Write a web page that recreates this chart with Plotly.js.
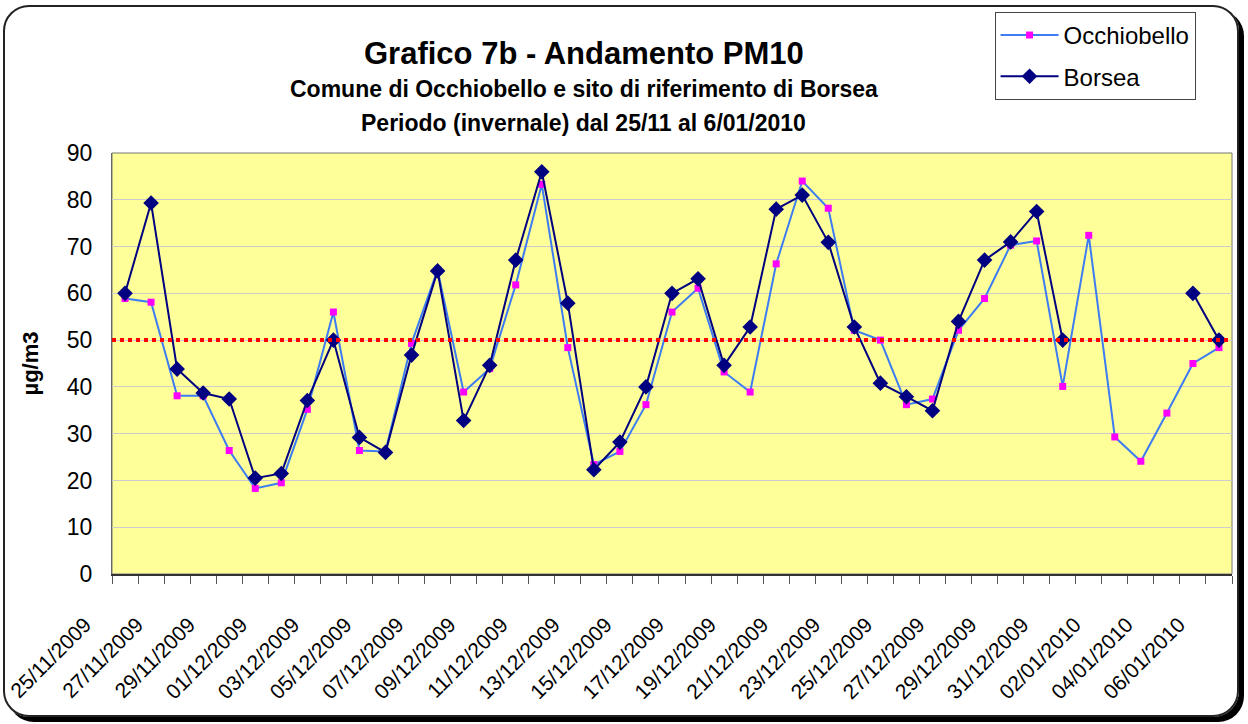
<!DOCTYPE html>
<html>
<head>
<meta charset="utf-8">
<script src="https://cdn.plot.ly/plotly-3.0.1.min.js"></script>
<style>
  body { margin: 0; background: #fff; }
  #myDiv { position: absolute; left: 0; top: 0; width: 1248px; height: 724px; }
  #frame {
    position: absolute; left: 3px; top: 5px; width: 1236px; height: 712px;
    box-sizing: border-box; border: 2px solid #222; border-radius: 26px;
    box-shadow: 5px 5px 0 #000; pointer-events: none;
  }
</style>
</head>
<body>
<div id="myDiv"></div>
<div id="frame"></div>
<script>
var days = ['2009-11-25', '2009-11-26', '2009-11-27', '2009-11-28', '2009-11-29', '2009-11-30',
  '2009-12-01', '2009-12-02', '2009-12-03', '2009-12-04', '2009-12-05', '2009-12-06',
  '2009-12-07', '2009-12-08', '2009-12-09', '2009-12-10', '2009-12-11', '2009-12-12',
  '2009-12-13', '2009-12-14', '2009-12-15', '2009-12-16', '2009-12-17', '2009-12-18',
  '2009-12-19', '2009-12-20', '2009-12-21', '2009-12-22', '2009-12-23', '2009-12-24',
  '2009-12-25', '2009-12-26', '2009-12-27', '2009-12-28', '2009-12-29', '2009-12-30',
  '2009-12-31', '2010-01-01', '2010-01-02', '2010-01-03', '2010-01-04', '2010-01-05',
  '2010-01-06'];

var occhiobello = [58.9, 58.1, 38.1, 38.1, 26.4, 18.3,
  19.5, 35.2, 56.0, 26.4, 26.2, 49.3,
  65.0, 38.9, 43.9, 61.8, 83.3, 48.4,
  23.4, 26.2, 36.2, 56.0, 61.1, 43.2,
  38.9, 66.3, 84.0, 78.2, 52.1, 50.0,
  36.2, 37.4, 52.1, 58.9, 70.3, 71.2,
  40.1, 72.4, 29.3, 24.1, 34.4, 45.0,
  48.4];

var borsea = [60.0, 79.3, 43.8, 38.7, 37.4, 20.5,
  21.5, 37.1, 50.0, 29.2, 26.0, 46.8,
  64.8, 32.8, 44.6, 67.1, 86.0, 57.9,
  22.3, 28.2, 40.0, 60.0, 63.1, 44.6,
  52.8, 78.0, 81.0, 70.9, 52.8, 40.8,
  37.9, 34.9, 54.0, 67.1, 71.0, 77.5,
  50.0, null, null, null, null, 60.0,
  50.0];

var limit = 50;

var trace1 = {
  x: days,
  y: occhiobello,
  mode: 'lines+markers',
  type: 'scatter',
  name: 'Occhiobello',
  legendgroup: 'a',
  line: { color: '#3d7cf2', width: 2 },
  marker: { symbol: 'square', size: 7, color: '#ff00ff' }
};

var trace2 = {
  x: days,
  y: borsea,
  mode: 'lines+markers',
  type: 'scatter',
  name: 'Borsea',
  legendgroup: 'b',
  connectgaps: false,
  line: { color: '#000080', width: 2 },
  marker: { symbol: 'diamond', size: 12, color: '#000080' }
};

var data = [trace1, trace2];

var layout = {
  width: 1248,
  height: 724,
  margin: { l: 112, r: 16, t: 153, b: 150 },
  paper_bgcolor: '#ffffff',
  plot_bgcolor: '#ffff99',
  font: { family: 'Liberation Sans, Arial, sans-serif', color: '#000' },
  showlegend: true,
  legend: {
    x: 0.788, y: 1.335, xanchor: 'left', yanchor: 'top',
    bgcolor: '#ffffff', bordercolor: '#444', borderwidth: 1,
    font: { size: 24 }, traceorder: 'grouped', tracegroupgap: 7,
    itemwidth: 58
  },
  xaxis: {
    type: 'date',
    range: ['2009-11-24 12:00', '2010-01-06 12:00'],
    tick0: '2009-11-25',
    dtick: 2 * 86400000,
    tickformat: '%d/%m/%Y',
    tickangle: -45,
    ticks: '',
    ticklabelshift: -40,
    ticklabelstandoff: 28,
    tickfont: { size: 21 },
    showgrid: false,
    showline: true, linecolor: '#333', linewidth: 2, mirror: false,
    minor: { ticks: 'outside', ticklen: 8, tickcolor: '#555', tickwidth: 1,
             dtick: 86400000, tick0: '2009-11-24 12:00', showgrid: false },
    fixedrange: true
  },
  yaxis: {
    range: [0, 90],
    dtick: 10,
    tickfont: { size: 23 },
    showgrid: true, gridcolor: '#cccccc', gridwidth: 1,
    zeroline: false,
    showline: true, linecolor: '#666', linewidth: 1,
    ticks: '',
    ticklabelstandoff: 14,
    title: { text: '<b>µg/m3</b>', font: { size: 22 }, standoff: 22 }
  },
  shapes: [
    { type: 'rect', xref: 'paper', yref: 'paper', x0: 0, x1: 1, y0: 0, y1: 1,
      line: { color: '#777', width: 1 }, layer: 'below' },
    { type: 'line', xref: 'paper', yref: 'y', x0: 0, x1: 1, y0: limit, y1: limit,
      line: { color: '#ff0000', width: 4, dash: '4px,4px' } }
  ],
  annotations: [
    { text: '<b>Grafico 7b - Andamento PM10</b>', xref: 'paper', yref: 'paper',
      x: 0.421, y: 1.236, xanchor: 'center', yanchor: 'middle', showarrow: false,
      font: { size: 31 } },
    { text: '<b>Comune di Occhiobello e sito di riferimento di Borsea</b>', xref: 'paper', yref: 'paper',
      x: 0.421, y: 1.152, xanchor: 'center', yanchor: 'middle', showarrow: false,
      font: { size: 23 } },
    { text: '<b>Periodo (invernale) dal 25/11 al 6/01/2010</b>', xref: 'paper', yref: 'paper',
      x: 0.421, y: 1.072, xanchor: 'center', yanchor: 'middle', showarrow: false,
      font: { size: 23 } }
  ]
};

Plotly.newPlot('myDiv', data, layout, { displayModeBar: false, staticPlot: true });
</script>
</body>
</html>
